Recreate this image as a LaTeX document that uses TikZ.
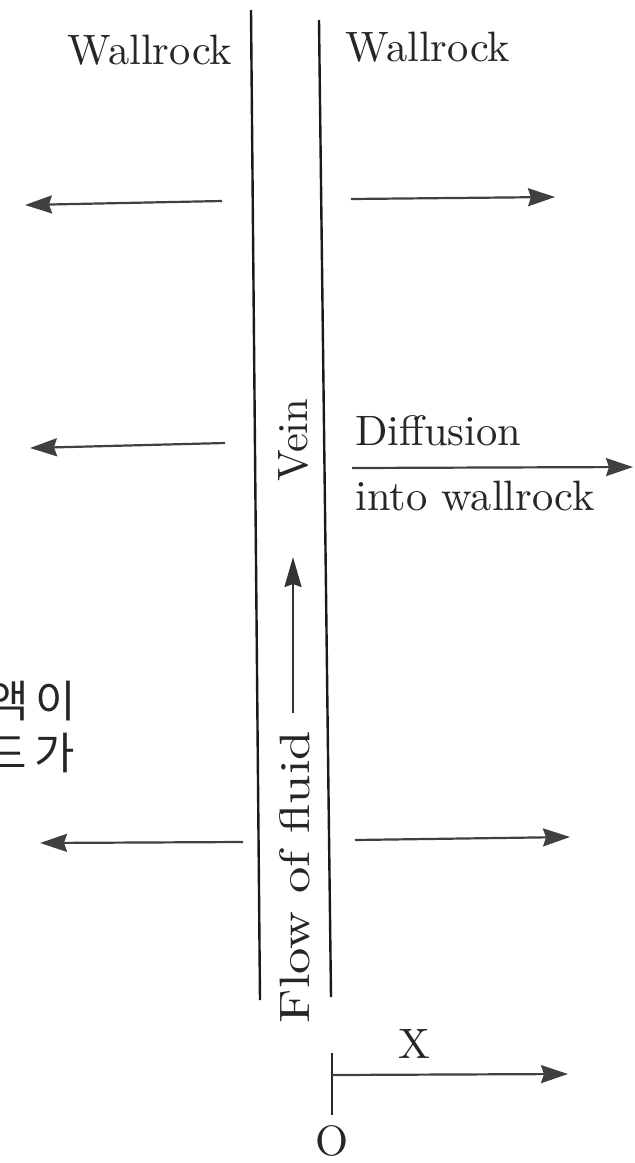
\documentclass[tikz,border=0pt]{standalone}
\usepackage{fontspec}
\newfontfamily\kofont{Noto Sans CJK KR}
\newfontfamily\cmten{lmroman10-regular}[Extension=.otf]
\usetikzlibrary{arrows.meta}
\begin{document}
\begin{tikzpicture}[x=1pt,y=-1pt,
  lbl/.style={font=\cmten\fontsize{42.5}{50}\selectfont, inner sep=0pt, text=black!85},
  kor/.style={font=\kofont\fontsize{44}{50}\selectfont, inner sep=0pt, anchor=base west, text=black!85},
  arr/.style={draw=black!75, line width=2.2pt, -{Stealth[length=27pt,width=18pt,inset=3pt]}},
  wall/.style={draw=black!90, line width=2.4pt}]
\useasboundingbox (0,0) rectangle (635,1163);
\clip (0,0) rectangle (635,1163);
% vein walls
\coordinate (l1) at (251,10);
\coordinate (l2) at (260,1000);
\coordinate (r1) at (319,20);
\coordinate (r2) at (331,997);
\draw[wall] (l1) -- (l2);
\draw[wall] (r1) -- (r2);
% labels
\node[lbl, anchor=base] (wl) at (150,64) {Wallrock};
\node[lbl, anchor=base] (wr) at (428,61) {Wallrock};
\node[lbl, anchor=base west] (dif) at (355,445) {Diffusion};
\node[lbl, anchor=base west] (into) at (355,510) {into wallrock};
\node[lbl, rotate=90] (vein) at (293,440) {Vein};
\node[lbl, rotate=90, xscale=1.24] (flow) at (295,877) {Flow of fluid};
% flow arrow
\coordinate (f1) at (293,713);
\coordinate (f2) at (293,557);
\draw[draw=black!80, line width=2.2pt, -{Stealth[length=30pt,width=17pt,inset=3pt]}] (f1) -- (f2);
% left arrows
\coordinate (a1s) at (222,201); \coordinate (a1e) at (25,205);
\coordinate (a2s) at (225,443); \coordinate (a2e) at (30,448);
\coordinate (a3s) at (243,842); \coordinate (a3e) at (40,843);
\draw[arr] (a1s) -- (a1e);
\draw[arr] (a2s) -- (a2e);
\draw[arr] (a3s) -- (a3e);
% right arrows
\coordinate (b1s) at (351,199); \coordinate (b1e) at (555,197);
\coordinate (b2s) at (352,468); \coordinate (b2e) at (633,467);
\coordinate (b3s) at (355,840); \coordinate (b3e) at (570,837);
\draw[arr] (b1s) -- (b1e);
\draw[arr] (b2s) -- (b2e);
\draw[arr] (b3s) -- (b3e);
% X axis
\coordinate (t1) at (332,1053);
\coordinate (t2) at (332,1115);
\coordinate (o) at (332,1075);
\coordinate (xe) at (568,1074);
\draw[draw=black!85, line width=2.2pt] (t1) -- (t2);
\draw[arr] (o) -- (xe);
\node[lbl] (xl) at (414,1044) {X};
\node[lbl] (ol) at (332,1141) {O};
% Korean fragments (cut at the left edge, as in the reference)
\node[kor] (k1) at (-12,717) {액\kern7pt 이};
\node[kor] (k2) at (-14,769) {드\kern8pt 가};
\end{tikzpicture}
\end{document}
